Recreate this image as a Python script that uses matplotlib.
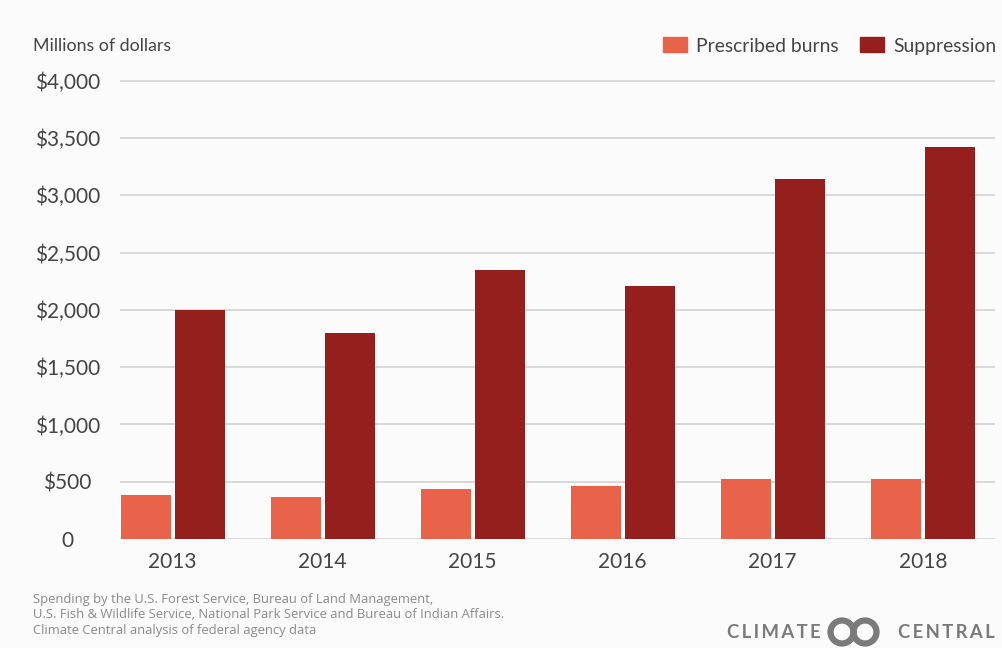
import matplotlib.pyplot as plt
from matplotlib.patches import Patch, Circle

# data
years = ['2013', '2014', '2015', '2016', '2017', '2018']
prescribed = [384, 363, 440, 463, 520, 520]
suppression = [2000, 1800, 2350, 2212, 3142, 3425]

yticks = [0, 500, 1000, 1500, 2000, 2500, 3000, 3500, 4000]
ytick_labels = ['0', '$500', '$1,000', '$1,500', '$2,000',
                '$2,500', '$3,000', '$3,500', '$4,000']

c_presc = '#e8634a'
c_supp = '#951f1d'
bg = '#fbfbfb'
txt = '#444444'

plt.rcParams['font.family'] = ['Lato', 'DejaVu Sans']

fig = plt.figure(figsize=(10.03, 6.48), dpi=100, facecolor=bg)
ax = fig.add_axes([120 / 1003, 109 / 648, 875 / 1003, 464 / 648])
ax.set_facecolor(bg)

x = list(range(len(years)))
w = 0.333
off = 0.18
ax.bar([i - off for i in x], prescribed, width=w, color=c_presc, zorder=3)
ax.bar([i + off for i in x], suppression, width=w, color=c_supp, zorder=3)

ax.set_xlim(-0.351, 5.482)
ax.set_ylim(0, 4050)

ax.set_yticks(yticks)
ax.set_yticklabels(ytick_labels)
ax.set_xticks(x)
ax.set_xticklabels(years)
ax.tick_params(axis='y', length=0, pad=38, labelsize=15, labelcolor=txt)
ax.tick_params(axis='x', length=0, pad=9, labelsize=15, labelcolor=txt)
for lab in ax.get_yticklabels():
    lab.set_ha('center')

ax.grid(axis='y', color='#d6d6d6', linewidth=1.3, zorder=0)
for s in ax.spines.values():
    s.set_visible(False)

fig.text(33 / 1003, 1 - 46 / 648, 'Millions of dollars', fontsize=12.8,
         color=txt, va='center', ha='left')

handles = [Patch(color=c_presc, label='Prescribed burns'),
           Patch(color=c_supp, label='Suppression')]
fig.legend(handles=handles, loc='center right', ncol=2, frameon=False,
           bbox_to_anchor=(996 / 1003, 1 - 46 / 648), fontsize=13.9,
           handlelength=1.25, handleheight=0.8, handletextpad=0.47,
           columnspacing=1.1, labelcolor=txt, borderpad=0, borderaxespad=0)

# footnote
note = ('Spending by the U.S. Forest Service, Bureau of Land Management,\n'
        'U.S. Fish & Wildlife Service, National Park Service and Bureau of Indian Affairs.\n'
        'Climate Central analysis of federal agency data')
fig.text(33 / 1003, 1 - 593 / 648, note, fontsize=9.4, color='#8a8a8a',
         va='top', ha='left', linespacing=1.25, family=['Open Sans', 'DejaVu Sans'])

# logo
logo_c = '#7a7a7a'
fig.text(727 / 1003, 1 - 633 / 648, 'C L I M A T E'.replace(' ', '\u2009'),
         fontsize=13.3, fontweight='bold', color=logo_c, va='center', ha='left')
fig.text(995 / 1003, 1 - 633 / 648, 'C E N T R A L'.replace(' ', '\u2009'),
         fontsize=13.3, fontweight='bold', color=logo_c, va='center', ha='right')
for cx in (842, 865):
    fig.patches.append(Circle((cx / 100, (648 - 632) / 100), 0.115, fill=False,
                              edgecolor=logo_c, linewidth=4.5,
                              transform=fig.dpi_scale_trans))

fig.savefig('out.png', dpi=100, facecolor=bg)
